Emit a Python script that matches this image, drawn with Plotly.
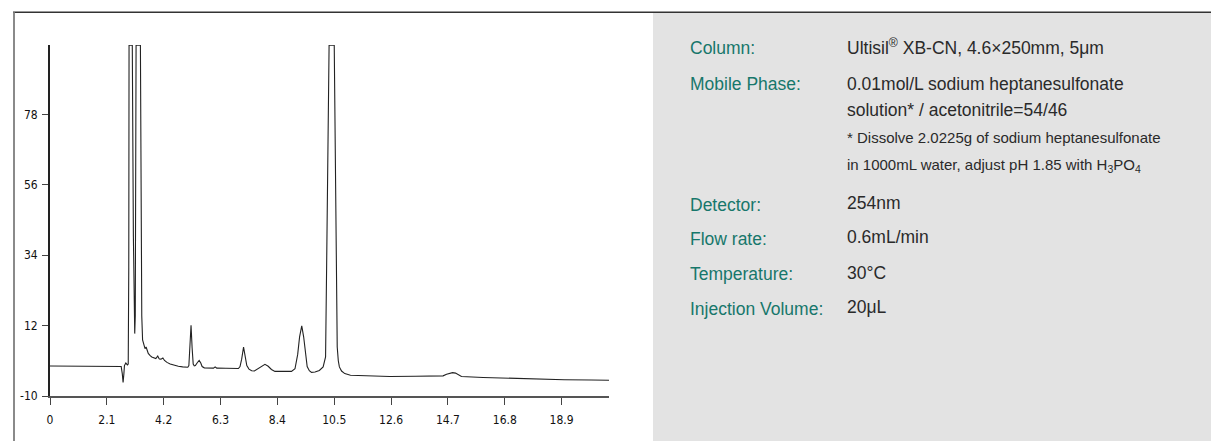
import plotly.graph_objects as go

# ---- data ----
time_min = [0.00, 2.55, 2.63, 2.67, 2.70, 2.73, 2.75, 2.80, 2.86, 2.89, 2.91, 2.92, 3.04, 3.08, 3.11,
            3.13, 3.15, 3.17, 3.18, 3.34, 3.36, 3.39, 3.42, 3.46, 3.51, 3.55, 3.58, 3.63, 3.70, 3.76,
            3.91, 3.96, 3.98, 4.02, 4.04, 4.10, 4.17, 4.23, 4.32, 4.44, 4.60, 4.74, 4.90, 5.09, 5.13,
            5.17, 5.21, 5.25, 5.29, 5.33, 5.37, 5.44, 5.51, 5.57, 5.62, 5.70, 5.90, 6.04, 6.10, 6.16,
            6.50, 6.96, 7.02, 7.08, 7.15, 7.21, 7.27, 7.35, 7.45, 7.55, 7.68, 7.80, 7.94, 8.06, 8.18,
            8.31, 8.60, 8.92, 9.05, 9.15, 9.22, 9.30, 9.37, 9.44, 9.50, 9.58, 9.66, 9.79, 9.95, 10.09,
            10.15, 10.18, 10.22, 10.27, 10.31, 10.50, 10.53, 10.56, 10.59, 10.61, 10.65, 10.69, 10.77,
            10.89, 11.10, 11.57, 12.55, 13.50, 14.30, 14.52, 14.65, 14.78, 14.87, 14.98, 15.10, 15.20,
            16.00, 17.00, 18.00, 19.00, 20.00, 20.65]
signal = [-0.62, -0.62, -0.8, -3.0, -5.8, -3.0, -0.5, 0.3, -0.3, 0.0, 30.0, 99.6, 99.6, 40.0, 15.0,
          9.5, 15.0, 60.0, 99.6, 99.6, 60.0, 15.0, 7.5, 6.0, 4.8, 5.3, 4.6, 3.3, 2.6, 2.2,
          1.7, 2.4, 2.5, 1.8, 1.6, 1.5, 1.9, 1.1, 0.5, 0.0, -0.4, -0.7, -0.9, -1.0, -0.5,
          5.0, 12.1, 5.0, 0.0, -0.6, -0.5, 0.4, 1.1, 0.3, -0.8, -1.2, -1.3, -1.3, -0.9, -1.3,
          -1.35, -1.4, -0.8, 1.5, 5.3, 2.0, -0.5, -1.6, -2.1, -2.2, -1.5, -0.6, -0.1, -0.7, -1.7,
          -2.3, -2.35, -2.3, -1.5, 3.0, 8.5, 11.9, 8.5, 2.5, -0.8, -2.1, -2.6, -2.5, -2.0, -0.9,
          1.0, 2.2, 31.4, 70.0, 99.6, 99.6, 75.0, 52.2, 20.0, 5.3, 1.0, -0.9, -2.2,
          -3.0, -3.5, -3.7, -3.9, -3.85, -3.75, -3.7, -3.2, -2.8, -2.7, -2.85, -3.3, -3.9,
          -4.2, -4.5, -4.7, -4.9, -5.0, -5.1]

x_tick_vals = [0, 2.1, 4.2, 6.3, 8.4, 10.5, 12.6, 14.7, 16.8, 18.9]
x_tick_text = ["0", "2.1", "4.2", "6.3", "8.4", "10.5", "12.6", "14.7", "16.8", "18.9"]
y_tick_vals = [-10, 12, 34, 56, 78]
y_tick_text = ["-10", "12", "34", "56", "78"]

param_labels = ["Column:", "Mobile Phase:", "Detector:", "Flow rate:", "Temperature:", "Injection Volume:"]
param_values = ["Ultisil<sup>®</sup> XB-CN, 4.6×250mm, 5μm",
                "0.01mol/L sodium heptanesulfonate",
                "254nm", "0.6mL/min", "30°C", "20μL"]
mobile_extra = ["solution* / acetonitrile=54/46"]
mobile_notes = ["* Dissolve 2.0225g of sodium heptanesulfonate",
                "in 1000mL water, adjust pH 1.85 with H<sub>3</sub>PO<sub>4</sub>"]

# ---- layout geometry (pixels) ----
W, H = 1211, 441
ML, MR, MT, MB = 50, 602, 45, 45
PW, PH = W - ML - MR, H - MT - MB


def px(x):
    return (x - ML) / PW


def py(y):
    return (H - MB - y) / PH


fig = go.Figure()
fig.add_trace(go.Scatter(x=time_min, y=signal, mode="lines",
                         line=dict(color="#222222", width=1.1), hoverinfo="skip",
                         showlegend=False))

tick_font = dict(family="DejaVu Sans Condensed, Liberation Sans Narrow, sans-serif",
                 size=12, color="#111111")

fig.update_xaxes(range=[0, 20.65], tickvals=x_tick_vals, ticktext=x_tick_text,
                 showgrid=False, zeroline=False, showline=True, linecolor="#555555", linewidth=1.6,
                 ticks="outside", ticklen=7, tickwidth=1.2, tickcolor="#444444",
                 tickfont=tick_font, ticklabelstandoff=5)
fig.update_yaxes(range=[-10, 99.7], tickvals=y_tick_vals, ticktext=y_tick_text,
                 showgrid=False, zeroline=False, showline=True, linecolor="#222222", linewidth=1.8,
                 ticks="outside", ticklen=6, tickwidth=1.2, tickcolor="#444444",
                 tickfont=tick_font, ticklabelstandoff=2)

shapes = [
    dict(type="rect", xref="paper", yref="paper", x0=px(653), x1=px(1215), y0=py(445), y1=py(13),
         fillcolor="#e3e3e3", line=dict(width=0), layer="below"),
    dict(type="line", xref="paper", yref="paper", x0=px(13), x1=px(1215), y0=py(12.3), y1=py(12.3),
         line=dict(color="#333333", width=1.4)),
    dict(type="line", xref="paper", yref="paper", x0=px(14), x1=px(14), y0=py(12.3), y1=py(445),
         line=dict(color="#8a8a8a", width=2)),
]

teal = "#17776b"
dark = "#2a2a2a"
main_font = "Liberation Sans, Arial, Helvetica, sans-serif"
LABEL_X, VALUE_X = 688, 845
label_y = [48, 84, 205, 239, 274, 309]
value_y = [47, 84, 203, 237, 273, 307]
MAIN_SIZE, NOTE_SIZE = 17.5, 15

annotations = []
for t, yy in zip(param_labels, label_y):
    annotations.append(dict(text=t, x=px(LABEL_X), y=py(yy), xref="paper", yref="paper",
                            xanchor="left", yanchor="middle", showarrow=False,
                            font=dict(family=main_font, size=MAIN_SIZE, color=teal)))
for t, yy in zip(param_values, value_y):
    annotations.append(dict(text=t, x=px(VALUE_X), y=py(yy), xref="paper", yref="paper",
                            xanchor="left", yanchor="middle", showarrow=False,
                            font=dict(family=main_font, size=MAIN_SIZE, color=dark)))
for t, yy in zip(mobile_extra, [110]):
    annotations.append(dict(text=t, x=px(VALUE_X), y=py(yy), xref="paper", yref="paper",
                            xanchor="left", yanchor="middle", showarrow=False,
                            font=dict(family=main_font, size=MAIN_SIZE, color=dark)))
for t, yy in zip(mobile_notes, [137.5, 165]):
    annotations.append(dict(text=t, x=px(VALUE_X), y=py(yy), xref="paper", yref="paper",
                            xanchor="left", yanchor="middle", showarrow=False,
                            font=dict(family=main_font, size=NOTE_SIZE, color=dark)))

fig.update_layout(width=W, height=H, margin=dict(l=ML, r=MR, t=MT, b=MB, pad=0),
                  paper_bgcolor="white", plot_bgcolor="white", shapes=shapes,
                  annotations=annotations, showlegend=False, hovermode=False)

fig.write_html("out.html", config={"displayModeBar": False},
               post_script="document.body.style.margin='0';document.body.style.overflow='hidden';")
